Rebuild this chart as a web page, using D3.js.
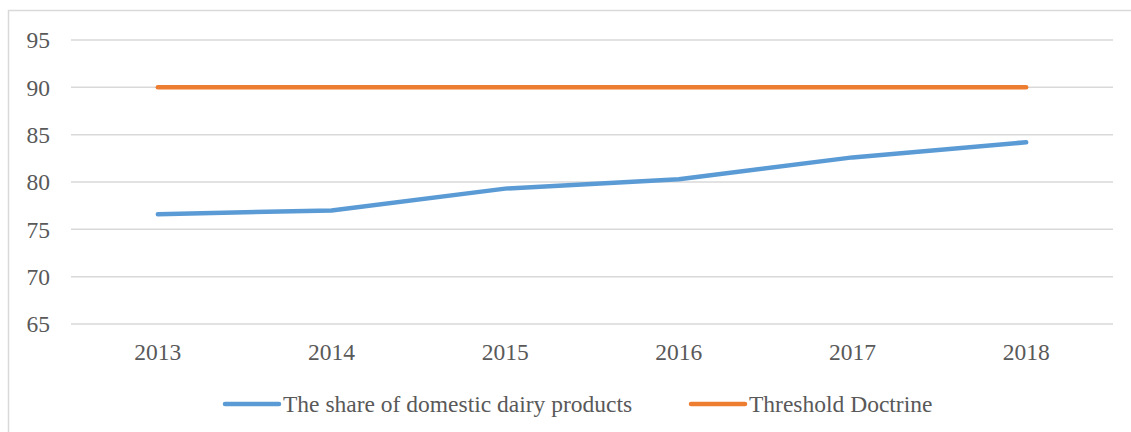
<!DOCTYPE html>
<html>
<head>
<meta charset="utf-8">
<script src="https://cdn.jsdelivr.net/npm/d3@7"></script>
<style>
  body { margin: 0; background: #fff; }
  text { font-family: "Liberation Serif", "Times New Roman", serif; fill: #595959; }
</style>
</head>
<body>
<div id="chart"></div>
<script>
// dades del gràfic
const years = ["2013", "2014", "2015", "2016", "2017", "2018"];
const domesticShare = [76.6, 77.0, 79.3, 80.3, 82.6, 84.2];
const threshold = [90, 90, 90, 90, 90, 90];
const yTicks = [65, 70, 75, 80, 85, 90, 95];
const seriesNames = ["The share of domestic dairy products", "Threshold Doctrine"];
const seriesColors = ["#5b9bd5", "#ed7d31"];

const W = 1131, H = 432;
const fontSize = 23.5;
const svg = d3.select("#chart").append("svg").attr("width", W).attr("height", H);

// marc exterior
svg.append("rect").attr("x", 8.5).attr("y", 10.5).attr("width", 1130).attr("height", 430)
  .attr("fill", "none").attr("stroke", "#d9d9d9").attr("stroke-width", 1.5);

const x = d3.scaleBand().domain(years).range([71, 1113]);
const y = d3.scaleLinear().domain([65, 95]).range([324, 40]);

// línies de graella
svg.selectAll(".grid").data(yTicks).join("line")
  .attr("x1", 71).attr("x2", 1113)
  .attr("y1", d => y(d)).attr("y2", d => y(d))
  .attr("stroke", "#d9d9d9").attr("stroke-width", 1.5);

// etiquetes de l'eix Y
svg.selectAll(".ylab").data(yTicks).join("text")
  .attr("x", 50).attr("y", d => y(d)).attr("dy", "0.35em")
  .attr("text-anchor", "end").attr("font-size", fontSize).text(d => d);

// etiquetes de l'eix X
svg.selectAll(".xlab").data(years).join("text")
  .attr("x", d => x(d) + x.bandwidth() / 2).attr("y", 360)
  .attr("text-anchor", "middle").attr("font-size", fontSize).text(d => d);

const line = d3.line().x((d, i) => x(years[i]) + x.bandwidth() / 2).y(d => y(d));

[domesticShare, threshold].forEach((s, i) => {
  svg.append("path").datum(s).attr("d", line)
    .attr("fill", "none").attr("stroke", seriesColors[i])
    .attr("stroke-width", 4.5).attr("stroke-linecap", "round").attr("stroke-linejoin", "round");
});

// llegenda
const legendX = [225, 691];
const lg = svg.selectAll(".legend").data(seriesNames).join("g")
  .attr("transform", (d, i) => `translate(${legendX[i]}, 404)`);
lg.append("line").attr("x1", 0).attr("x2", 54).attr("y1", 0).attr("y2", 0)
  .attr("stroke", (d, i) => seriesColors[i]).attr("stroke-width", 4.5).attr("stroke-linecap", "round");
lg.append("text").attr("x", 58).attr("dy", "0.35em").attr("font-size", fontSize).text(d => d);
</script>
</body>
</html>
